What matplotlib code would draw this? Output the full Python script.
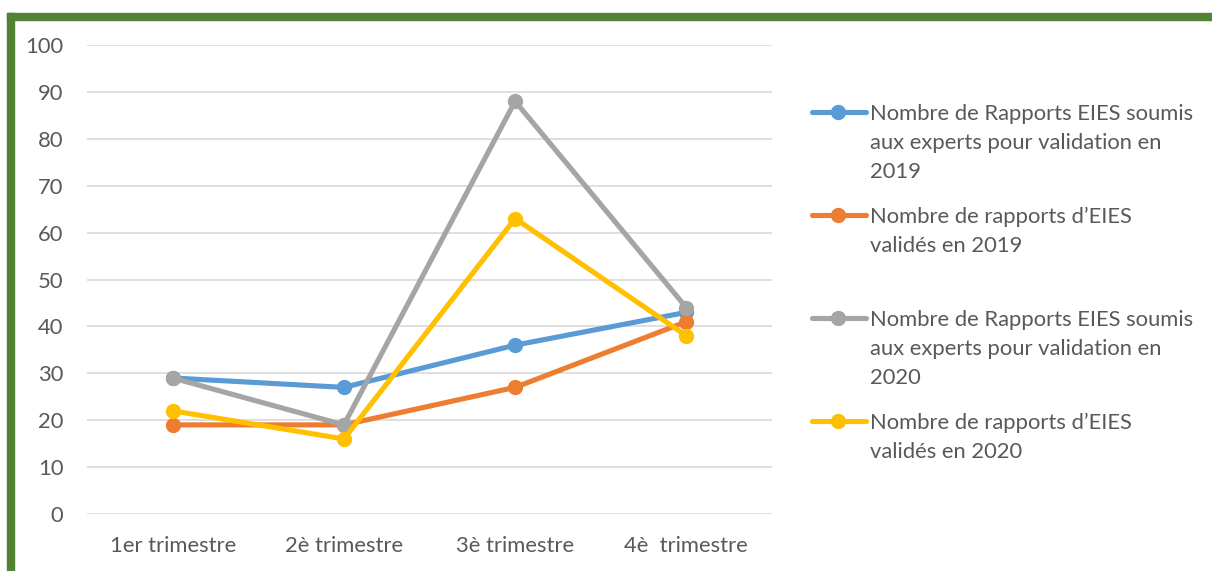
import matplotlib.pyplot as plt
from matplotlib.lines import Line2D
from matplotlib.patches import Rectangle

plt.rcParams['font.family'] = ['Lato', 'DejaVu Sans']

trimestres = ['1er trimestre', '2è trimestre', '3è trimestre', '4è  trimestre']
soumis_2019 = [29, 27, 36, 43]
valides_2019 = [19, 19, 27, 41]
soumis_2020 = [29, 19, 88, 44]
valides_2020 = [22, 16, 63, 38]

series = [
    (soumis_2019, '#5B9BD5', 'Nombre de Rapports EIES soumis\naux experts pour validation en\n2019'),
    (valides_2019, '#ED7D31', 'Nombre de rapports d\u2019EIES\nvalidés en 2019'),
    (soumis_2020, '#A5A5A5', 'Nombre de Rapports EIES soumis\naux experts pour validation en\n2020'),
    (valides_2020, '#FFC000', 'Nombre de rapports d\u2019EIES\nvalidés en 2020'),
]
txt = '#595959'
W, H = 1212, 571
fs = 15.8

fig = plt.figure(figsize=(W / 100, H / 100), dpi=100)
ax = fig.add_axes([87 / W, 57 / H, (772 - 87) / W, (514 - 45) / H])

x = range(len(trimestres))
for vals, col, lab in series:
    ax.plot(x, vals, color=col, lw=3.7, marker='o', ms=10, solid_capstyle='round')

ax.set_xlim(-0.5, 3.5)
ax.set_ylim(0, 100)
ax.set_yticks(range(0, 101, 10))
ax.set_xticks(list(x))
ax.set_xticklabels(trimestres)
ax.grid(axis='y', color='#D9D9D9', lw=1.2)
ax.set_axisbelow(True)
for s in ax.spines.values():
    s.set_visible(False)
ax.tick_params(length=0, colors=txt, labelsize=fs)
ax.tick_params(axis='y', pad=17)
ax.tick_params(axis='x', pad=16)

# legend drawn by hand so the marker sits on the first text line
tops = [112, 215, 318, 421]
for (vals, col, lab), y in zip(series, tops):
    fy = 1 - y / H
    fig.add_artist(Line2D([812 / W, 866 / W], [fy, fy], color=col, lw=3.7,
                          solid_capstyle='round', transform=fig.transFigure))
    fig.add_artist(Line2D([838 / W], [fy], color=col, marker='o', ms=10,
                          transform=fig.transFigure))
    fig.text(870 / W, fy + 8 / H, lab, color=txt, fontsize=fs, va='top',
             ha='left', linespacing=1.55)

# green frame on top and left
green = '#548235'
fig.add_artist(Rectangle((7 / W, 1 - 20 / H), 1 - 7 / W, 7 / H, color=green,
                         transform=fig.transFigure))
fig.add_artist(Rectangle((7 / W, 0), 7 / W, 1 - 13 / H, color=green,
                         transform=fig.transFigure))

fig.savefig('out.png', dpi=100)
